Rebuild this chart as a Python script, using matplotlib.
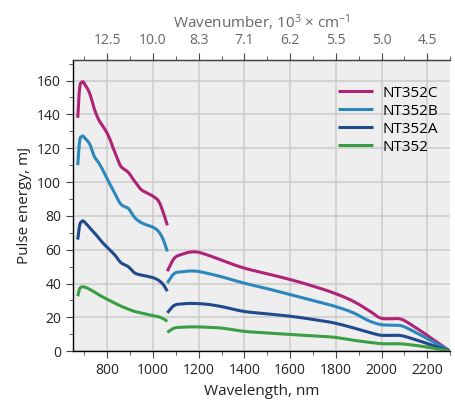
import matplotlib.pyplot as plt
from matplotlib.ticker import MultipleLocator, FixedLocator
import numpy as np

plt.rcParams['font.family'] = ['Open Sans', 'DejaVu Sans']
plt.rcParams['mathtext.default'] = 'regular'

# segment 1 (< 1065 nm)
wl_1 = [671, 678, 689, 705, 723, 744, 762, 781, 803, 832, 861, 875, 890, 920, 949, 975, 1000, 1029, 1045, 1063]
nt352c_1 = [138, 154, 159, 157, 152.5, 143, 137, 133, 128, 118, 109, 107.5, 106, 100.4, 95.5, 93.5, 91.6, 87.7, 82, 74.4]
nt352b_1 = [110, 123, 127, 125.5, 122.5, 115, 111.5, 107, 101, 93.6, 86.7, 85.5, 84.7, 79, 76, 74.5, 73.3, 70, 66, 59]
nt352a_1 = [66, 73.5, 76.8, 75.8, 73, 70, 67, 64, 61, 57.1, 52.2, 51.2, 50.2, 46.3, 45, 44.3, 43.5, 41.5, 39.4, 35.5]
nt352_1 = [32.5, 36.5, 38, 37.7, 36.6, 35, 33.5, 32, 30.5, 28.5, 26.6, 25.8, 25, 23.5, 22.7, 21.8, 21, 20.2, 19.2, 17.7]

# segment 2 (>= 1065 nm)
wl_2 = [1063, 1088, 1132, 1190, 1234, 1292, 1395, 1500, 1600, 1700, 1790, 1877, 1950, 1994, 2040, 2082, 2140, 2220, 2300]
nt352c_2 = [47.3, 54, 57.5, 58.7, 57.1, 54.2, 49.3, 45.8, 42.4, 38.5, 34.5, 29.5, 23.6, 19.7, 19.2, 19.1, 14.8, 7.5, 0]
nt352b_2 = [40.4, 45.3, 47, 47.3, 46.2, 44.3, 40.4, 37, 33.5, 30, 26.8, 22.7, 17.7, 15.8, 15.4, 15.2, 11.8, 6, 0]
nt352a_2 = [22.7, 26.6, 28, 28.2, 27.8, 26.6, 23.6, 22.1, 20.7, 18.8, 16.8, 13.8, 11, 9.5, 9.4, 9.3, 7.2, 3.6, 0]
nt352_2 = [11.2, 13.4, 14.2, 14.4, 14.2, 13.8, 11.8, 10.8, 9.9, 9.1, 8.3, 6.5, 5.2, 4.5, 4.4, 4.4, 3.6, 2, 0]

names = ['NT352C', 'NT352B', 'NT352A', 'NT352']
colors = ['#AE2277', '#2B87BC', '#1F4A8C', '#3A9E45']
seg1 = [nt352c_1, nt352b_1, nt352a_1, nt352_1]
seg2 = [nt352c_2, nt352b_2, nt352a_2, nt352_2]

top_ticks = [800, 1000, 1200, 1400, 1600, 1800, 2000, 2200]
top_labels = ['12.5', '10.0', '8.3', '7.1', '6.2', '5.5', '5.0', '4.5']


def smooth(x, y, n=300):
    # cubic hermite through the read points, so the lines look smooth
    x = np.asarray(x, float)
    y = np.asarray(y, float)
    xs = np.linspace(x[0], x[-1], n)
    h = np.diff(x)
    d = np.diff(y) / h
    m = np.zeros_like(y)
    m[1:-1] = (d[:-1] * h[1:] + d[1:] * h[:-1]) / (h[:-1] + h[1:])
    m[0], m[-1] = d[0], d[-1]
    idx = np.clip(np.searchsorted(x, xs) - 1, 0, len(h) - 1)
    t = (xs - x[idx]) / h[idx]
    h00 = 2 * t**3 - 3 * t**2 + 1
    h10 = t**3 - 2 * t**2 + t
    h01 = -2 * t**3 + 3 * t**2
    h11 = t**3 - t**2
    ys = h00 * y[idx] + h10 * h[idx] * m[idx] + h01 * y[idx + 1] + h11 * h[idx] * m[idx + 1]
    return xs, ys


fig = plt.figure(figsize=(4.56, 4.07), dpi=100)
ax = fig.add_axes([0.16, 0.137, 0.827, 0.715])
ax.set_facecolor('#EEEEEE')

for name, c, s1, s2 in zip(names, colors, seg1, seg2):
    x1, y1 = smooth(wl_1, s1)
    x2, y2 = smooth(wl_2, s2)
    ax.plot(x1, y1, color=c, lw=2.2, label=name, solid_capstyle='butt')
    ax.plot(x2, y2, color=c, lw=2.2, solid_capstyle='butt')

ax.set_xlim(650, 2300)
ax.set_ylim(0, 172)
ax.xaxis.set_minor_locator(MultipleLocator(100))
ax.yaxis.set_major_locator(MultipleLocator(20))
ax.yaxis.set_minor_locator(MultipleLocator(10))
ax.set_xticks([800, 1000, 1200, 1400, 1600, 1800, 2000, 2200])
ax.grid(True, which='major', color='#CBCBCB', lw=1.1)
ax.set_axisbelow(True)

ax.spines['right'].set_visible(False)
for sp in ['left', 'bottom', 'top']:
    ax.spines[sp].set_color('#444444')
    ax.spines[sp].set_linewidth(1.0)

ax.tick_params(which='major', length=5, color='#444444', labelsize=10, labelcolor='#222222')
ax.tick_params(which='minor', length=3, color='#444444')
ax.set_xlabel('Wavelength, nm', fontsize=11, color='#222222')
ax.set_ylabel('Pulse energy, mJ', fontsize=11, color='#222222')

ax2 = ax.twiny()
ax2.set_xlim(ax.get_xlim())
ax2.xaxis.set_major_locator(FixedLocator(top_ticks))
ax2.xaxis.set_minor_locator(MultipleLocator(100))
ax2.set_xticklabels(top_labels)
ax2.spines['right'].set_visible(False)
ax2.spines['top'].set_color('#444444')
ax2.tick_params(which='major', length=5, color='#444444', labelsize=10, labelcolor='#666666')
ax2.tick_params(which='minor', length=3, color='#444444')
ax2.set_xlabel('Wavenumber, 10$^3$ × cm$^{-1}$', fontsize=11, color='#666666')

leg = ax.legend(loc='upper right', bbox_to_anchor=(1.005, 0.96), frameon=False, fontsize=11,
                handlelength=2.3, labelspacing=0.2, handletextpad=0.6)

fig.savefig('out.png', dpi=100)
